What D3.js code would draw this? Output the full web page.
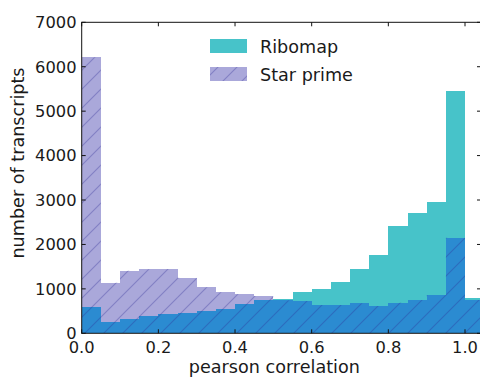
<!DOCTYPE html>
<html><head><meta charset="utf-8">
<script src="https://cdn.jsdelivr.net/npm/d3@7"></script>
<style>
html,body{margin:0;padding:0;background:#fff;}
svg{display:block;}
text{font-family:"DejaVu Sans",sans-serif;fill:#1a1a1a;}
</style></head><body>
<svg id="chart" width="480" height="377"></svg>
<script>
// ---- data ----
const binStarts = [0,0.05,0.1,0.15,0.2,0.25,0.3,0.35,0.4,0.45,0.5,0.55,0.6,0.65,0.7,0.75,0.8,0.85,0.9,0.95,1.0];
const binWidth = 0.05;
const ribomap   = [585,262,330,380,427,450,508,540,652,750,765,937,1000,1162,1440,1762,2422,2700,2962,5462,790];
const starPrime = [6212,1140,1410,1440,1447,1250,1035,922,880,840,740,727,637,637,675,615,690,750,862,2152,750];
const xTicks = [0,0.2,0.4,0.6,0.8,1.0];
const xTickLabels = ["0.0","0.2","0.4","0.6","0.8","1.0"];
const yTicks = [0,1000,2000,3000,4000,5000,6000,7000];
const seriesNames = ["Ribomap","Star prime"];

// ---- layout ----
const L = 81.7, R = 481, T = 22.3, B = 333.3;
const svg = d3.select("#chart");
const x = d3.scaleLinear().domain([0,1]).range([L, 465]);
const y = d3.scaleLinear().domain([0,7000]).range([B, T]);

const cTeal = "#47c3c9", cLav = "#aaa8da", cDark = "#2b8bd1";

const defs = svg.append("defs");
defs.append("clipPath").attr("id","plotclip").append("rect")
  .attr("x",L).attr("y",T).attr("width",R-L).attr("height",B-T);
const hs = 19;
const pat = defs.append("pattern").attr("id","hatch").attr("patternUnits","userSpaceOnUse")
  .attr("width",hs).attr("height",hs);
pat.append("path").attr("d",`M0,${hs} L${hs},0 M${-hs/2},${hs/2} L${hs/2},${-hs/2} M${hs/2},${hs*1.5} L${hs*1.5},${hs/2}`)
  .attr("stroke","rgba(45,40,150,0.32)").attr("stroke-width",1.1);

const g = svg.append("g").attr("clip-path","url(#plotclip)");
const idx = d3.range(binStarts.length);

// ribomap bars
g.selectAll(".rb").data(idx).join("rect")
  .attr("x", i => x(binStarts[i])).attr("width", i => x(binStarts[i]+binWidth)-x(binStarts[i]))
  .attr("y", i => y(ribomap[i])).attr("height", i => B - y(ribomap[i]))
  .attr("fill", cTeal).attr("shape-rendering","crispEdges");
// star prime bars
g.selectAll(".sp").data(idx).join("rect")
  .attr("x", i => x(binStarts[i])).attr("width", i => x(binStarts[i]+binWidth)-x(binStarts[i]))
  .attr("y", i => y(starPrime[i])).attr("height", i => B - y(starPrime[i]))
  .attr("fill", cLav).attr("shape-rendering","crispEdges");
// overlap
g.selectAll(".ov").data(idx).join("rect")
  .attr("x", i => x(binStarts[i])).attr("width", i => x(binStarts[i]+binWidth)-x(binStarts[i]))
  .attr("y", i => y(Math.min(ribomap[i],starPrime[i]))).attr("height", i => B - y(Math.min(ribomap[i],starPrime[i])))
  .attr("fill", cDark).attr("shape-rendering","crispEdges");
// hatch over star prime
g.selectAll(".ht").data(idx).join("rect")
  .attr("x", i => x(binStarts[i])).attr("width", i => x(binStarts[i]+binWidth)-x(binStarts[i]))
  .attr("y", i => y(starPrime[i])).attr("height", i => B - y(starPrime[i]))
  .attr("fill", "url(#hatch)");

// spines
svg.append("rect").attr("x",L).attr("y",T).attr("width",R-L).attr("height",B-T)
  .attr("fill","none").attr("stroke","#111").attr("stroke-width",1);

// ticks (inward, all four sides)
const tl = 4;
xTicks.forEach(v => {
  svg.append("line").attr("x1",x(v)).attr("x2",x(v)).attr("y1",B).attr("y2",B-tl).attr("stroke","#111");
  svg.append("line").attr("x1",x(v)).attr("x2",x(v)).attr("y1",T).attr("y2",T+tl).attr("stroke","#111");
});
yTicks.forEach(v => {
  svg.append("line").attr("x1",L).attr("x2",L+tl).attr("y1",y(v)).attr("y2",y(v)).attr("stroke","#111");
  svg.append("line").attr("x1",R).attr("x2",R-tl).attr("y1",y(v)).attr("y2",y(v)).attr("stroke","#111");
});

// tick labels
xTicks.forEach((v,i) => {
  svg.append("text").attr("x",x(v)).attr("y",353).attr("text-anchor","middle")
    .attr("font-size",16.3).text(xTickLabels[i]);
});
yTicks.forEach(v => {
  svg.append("text").attr("x",76.5).attr("y",y(v)).attr("dy","0.36em").attr("text-anchor","end")
    .attr("font-size",16.3).text(v);
});

// axis labels
svg.append("text").attr("x",(L+465)/2+1).attr("y",373).attr("text-anchor","middle")
  .attr("font-size",17.6).text("pearson correlation");
svg.append("text").attr("transform","translate(24,163) rotate(-90)").attr("text-anchor","middle")
  .attr("font-size",17.6).text("number of transcripts");

// legend
const lg = svg.append("g");
const lgFills = [cTeal, cLav];
seriesNames.forEach((n,i) => {
  const yy = 39 + i*28;
  lg.append("rect").attr("x",210).attr("y",yy).attr("width",37).attr("height",14).attr("fill",lgFills[i]);
  if (i===1) lg.append("rect").attr("x",210).attr("y",yy).attr("width",37).attr("height",14).attr("fill","url(#hatch)");
  lg.append("text").attr("x",260).attr("y",yy+14.3).attr("font-size",17.6).text(n);
});
</script>
</body></html>
